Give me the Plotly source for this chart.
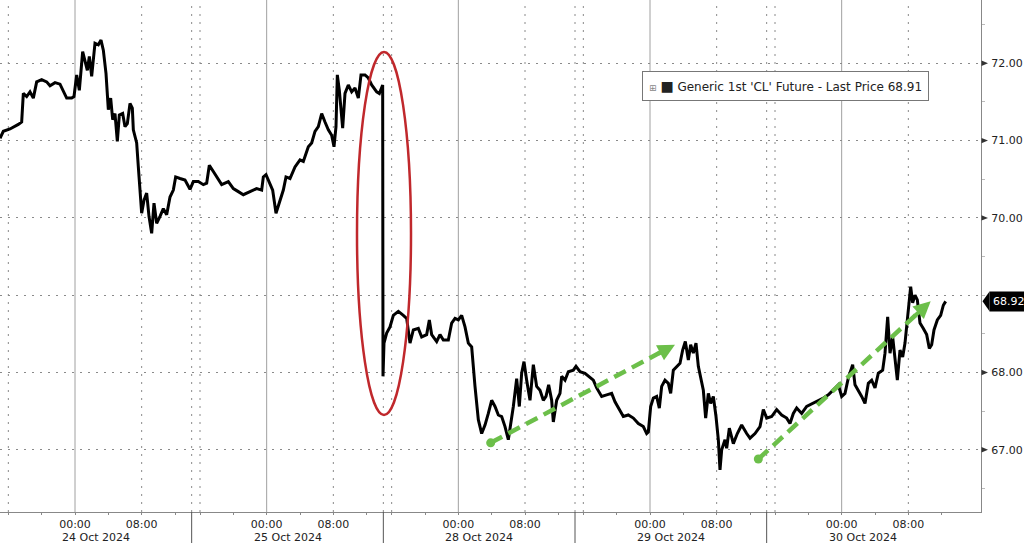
import plotly.graph_objects as go

# ---------------- data ----------------
# x: trading-session hours since the start of the 24 Oct session (23-hour sessions, gaps removed)
hours = [0.0, 0.4, 1.2, 1.8, 2.2, 2.6, 2.8, 3.2, 3.6, 4.0, 4.4, 5.0, 5.6, 6.0, 6.6, 7.2, 7.8, 8.0,
         8.6, 8.88, 9.2, 9.52, 9.92, 10.2, 10.48, 10.72, 11.0, 11.4, 11.8, 12.12, 12.4, 12.72, 13.0,
         13.28, 13.52, 13.8, 14.08, 14.32, 14.72, 15.0, 15.28, 15.6, 15.88, 16.0, 16.4, 16.6, 16.8,
         17.0, 17.28, 17.6, 17.88, 18.2, 18.48, 18.8, 19.2, 19.6, 20.0, 20.4, 20.8, 21.08, 21.6, 22.2,
         22.8, 23.2, 23.8, 24.4, 24.8, 25.12, 25.6, 26.2, 26.6, 27.4, 28.0, 28.6,
         29.2, 30.0, 30.8, 31.4, 31.6, 31.92, 32.32, 32.72, 33.12, 33.52, 34.0, 34.32, 34.8, 35.4,
         36.0, 36.4, 37.0, 37.4, 37.8, 38.2, 38.6, 39.0, 39.4, 39.8, 40.08, 40.32, 40.48, 40.72,
         41.12, 41.4, 41.8, 42.2, 42.6, 43.0, 43.32, 43.8, 44.2, 44.6, 45.2, 45.52, 45.92,
         45.96, 46.08, 46.4, 46.8, 47.2, 47.8, 48.4, 48.8, 49.2, 49.6, 50.2, 50.6, 51.2, 51.52, 51.8,
         52.4, 52.8, 53.2, 53.8, 54.2, 54.6, 55.0, 55.4, 55.8, 56.2, 56.6, 57.0, 57.4, 57.8, 58.2,
         58.6, 59.0, 59.4, 59.8, 60.2, 60.6, 61.0, 61.2, 61.6, 62.0, 62.32, 62.6, 62.88, 63.2, 63.6,
         64.0, 64.4, 64.8, 65.2, 65.52, 65.84, 66.2, 66.4, 66.8, 67.2, 67.4, 67.8, 68.2, 68.8, 69.12,
         69.6, 70.2, 70.8, 71.2, 71.6, 72.2, 72.8, 73.4, 73.8, 74.32, 74.8, 75.4, 76.0, 76.6, 77.2,
         77.6, 77.8, 78.08, 78.4, 78.8, 79.12, 79.4, 79.8, 80.2, 80.48, 80.8, 81.2, 81.6, 81.92,
         82.24, 82.6, 82.88, 83.2, 83.52, 83.8, 84.08, 84.4, 84.68, 85.0, 85.28, 85.6, 85.92, 86.2,
         86.4, 86.6, 87.0, 87.2, 87.52, 88.0, 88.48, 89.0, 89.6, 90.0, 90.6, 91.2, 91.6, 92.0, 92.6,
         93.2, 93.8, 94.4, 94.8, 95.2, 95.6, 96.2, 96.8, 97.6, 98.2, 98.8, 99.4, 100.0, 100.6, 101.0,
         101.4, 101.8, 102.32, 102.6, 103.0, 103.4, 103.8, 104.2, 104.6, 105.0, 105.4, 105.92, 106.2,
         106.52, 106.8, 107.12, 107.4, 107.68, 108.0, 108.32, 108.6, 108.88, 109.12, 109.28, 109.52,
         109.8, 110.08, 110.4, 110.8, 111.2, 111.52, 111.8, 112.08, 112.48, 112.88, 113.2, 113.48]

price = [71.03, 71.12, 71.15, 71.18, 71.21, 71.24, 71.61, 71.57, 71.63, 71.55, 71.76, 71.79, 71.76,
         71.71, 71.75, 71.73, 71.61, 71.55, 71.55, 71.57, 71.85, 71.65, 72.15, 72.02, 71.91, 72.09,
         71.83, 72.26, 72.24, 72.30, 72.17, 71.87, 71.40, 71.55, 71.27, 71.35, 70.99, 71.33, 71.35,
         71.18, 71.22, 71.48, 71.42, 71.14, 70.97, 70.66, 70.40, 70.06, 70.23, 70.32, 70.02, 69.80,
         70.19, 69.93, 70.02, 70.12, 70.04, 70.27, 70.36, 70.53, 70.51, 70.49, 70.37, 70.47, 70.47,
         70.43, 70.45, 70.68, 70.60, 70.49, 70.43, 70.47, 70.38, 70.34,
         70.30, 70.34, 70.38, 70.36, 70.53, 70.56, 70.45, 70.36, 70.06, 70.19, 70.36, 70.53, 70.51,
         70.66, 70.75, 70.73, 70.92, 70.97, 71.12, 71.18, 71.35, 71.24, 71.14, 71.07, 70.92, 71.18,
         71.85, 71.65, 71.16, 71.61, 71.72, 71.63, 71.68, 71.55, 71.85, 71.85, 71.81, 71.72, 71.63,
         71.61, 71.72,
         67.95, 68.38, 68.51, 68.59, 68.74, 68.79, 68.74, 68.70, 68.38, 68.55, 68.57, 68.46, 68.49,
         68.68, 68.49, 68.40, 68.49, 68.42, 68.42, 68.64, 68.70, 68.68, 68.74, 68.59, 68.38, 68.33,
         67.82, 67.39, 67.21, 67.32, 67.47, 67.64, 67.56, 67.45, 67.43, 67.30, 67.13, 67.26, 67.56,
         67.92, 67.56, 67.99, 68.14, 67.90, 67.64, 68.10, 67.82, 67.77, 67.64, 67.69, 67.84, 67.64,
         67.36, 67.64, 67.73, 67.95, 67.90, 68.01, 68.03, 68.08, 68.01, 67.99, 67.93, 67.90, 67.80,
         67.69, 67.71, 67.73, 67.62, 67.52, 67.43, 67.45, 67.41, 67.34, 67.30, 67.21, 67.23, 67.56,
         67.67, 67.69, 67.54, 67.82, 67.90, 67.86, 67.73, 68.03, 68.08, 68.12, 68.29, 68.40, 68.16,
         68.36, 68.25, 68.38, 68.08, 67.95, 67.77, 67.41, 67.73, 67.60, 67.69, 67.43, 67.13,
         66.74, 67.00, 67.13, 67.02, 67.28, 67.08, 67.21, 67.32, 67.21, 67.15, 67.21, 67.30, 67.52,
         67.41, 67.43, 67.52, 67.45, 67.41, 67.34, 67.47, 67.54, 67.47, 67.56, 67.60, 67.64, 67.67,
         67.71, 67.77, 67.84, 67.69, 67.73, 67.93, 68.10, 67.84, 67.77, 67.69, 67.60, 67.86, 67.90,
         67.80, 67.99, 68.03, 68.25, 68.72, 68.25, 68.46, 68.18, 67.90, 68.29, 68.20, 68.38, 68.68,
         68.94, 69.11, 68.90, 69.00, 68.94, 68.64, 68.57, 68.49, 68.31, 68.36, 68.55, 68.68, 68.74,
         68.87, 68.92]

session_dates = ["24 Oct 2024", "25 Oct 2024", "28 Oct 2024", "29 Oct 2024", "30 Oct 2024"]
session_starts = [0, 23, 46, 69, 92]          # hours
tick_offsets = [1, 5, 9, 13, 17, 21]           # 16:00, 20:00, 00:00, 04:00, 08:00, 12:00
tick_names = ["", "", "00:00", "", "08:00", ""]
y_ticks = [67, 68, 69, 70, 71, 72]
last_price = 68.92
legend_label = "Generic 1st 'CL' Future - Last Price 68.91"

# annotation geometry (data coordinates)
ellipse_x = [42.84, 49.32]
ellipse_y = [67.45, 72.146]
arrow1 = [(58.88, 67.09), (81.0, 68.36)]
arrow2 = [(91.0, 66.88), (111.68, 68.92)]

x_range = [0, 117.72]
y_range = [66.195, 72.819]

FONT = "DejaVu Sans"
GREEN = "#6cbf4a"
RED = "#c0282c"
PW = 981.0  # plot width in px
PH = 512.0  # plot height in px

fig = go.Figure()
fig.add_trace(go.Scatter(x=hours, y=price, mode="lines",
                         line=dict(color="black", width=3), hoverinfo="skip", showlegend=False))
fig.add_trace(go.Scatter(x=[arrow1[0][0], arrow2[0][0]], y=[arrow1[0][1], arrow2[0][1]],
                         mode="markers", marker=dict(color=GREEN, size=9),
                         hoverinfo="skip", showlegend=False))

tickvals, ticktext = [], []
for s in session_starts:
    for off, name in zip(tick_offsets, tick_names):
        if s + off < x_range[1]:
            tickvals.append(s + off)
            ticktext.append(name)

shapes = []
for i, s in enumerate(session_starts):
    shapes.append(dict(type="line", xref="x", yref="paper", x0=s + 9, x1=s + 9, y0=0, y1=1,
                       line=dict(color="#a0a0a0", width=1), layer="below"))
    for off in [1, 17]:
        shapes.append(dict(type="line", xref="x", yref="paper", x0=s + off, x1=s + off, y0=0, y1=1,
                           line=dict(color="#8a8a8a", width=1, dash="2px,6px"), layer="below"))
    if i > 0:
        shapes.append(dict(type="line", xref="x", yref="paper", x0=s, x1=s, y0=0, y1=1,
                           line=dict(color="#8a8a8a", width=1, dash="2px,6px"), layer="below"))
        shapes.append(dict(type="line", xref="x", yref="paper", x0=s, x1=s, y0=0, y1=-31 / PH,
                           line=dict(color="#555", width=1)))

shapes.append(dict(type="circle", xref="x", yref="y", x0=ellipse_x[0], x1=ellipse_x[1],
                   y0=ellipse_y[0], y1=ellipse_y[1], line=dict(color=RED, width=2.5)))
for a in [arrow1, arrow2]:
    shapes.append(dict(type="line", xref="x", yref="y", x0=a[0][0], y0=a[0][1],
                       x1=a[0][0] + 0.93 * (a[1][0] - a[0][0]), y1=a[0][1] + 0.93 * (a[1][1] - a[0][1]),
                       line=dict(color=GREEN, width=4.5, dash="13px,7px")))

for v in y_ticks:
    if abs(v - last_price) < 0.3:
        continue
    shapes.append(dict(type="path", xref="paper", yref="y",
                       path=f"M {981.5/PW} {v-0.035} L {988/PW} {v} L {981.5/PW} {v+0.035} Z",
                       fillcolor="#333", line=dict(width=0)))
shapes.append(dict(type="path", xref="paper", yref="y",
                   path=f"M {982.5/PW} {last_price} L {989.5/PW} {last_price+0.128} L {989.5/PW} {last_price-0.128} Z",
                   fillcolor="black", line=dict(width=0)))

annotations = []
for a in [arrow1, arrow2]:
    annotations.append(dict(x=a[1][0], y=a[1][1], xref="x", yref="y", axref="x", ayref="y",
                            ax=a[0][0] + 0.9 * (a[1][0] - a[0][0]), ay=a[0][1] + 0.9 * (a[1][1] - a[0][1]),
                            text="", showarrow=True, arrowhead=2, arrowsize=0.85, arrowwidth=4,
                            arrowcolor=GREEN))
for s, d in zip(session_starts, session_dates):
    annotations.append(dict(x=s + 9, y=0, xref="x", yref="paper", xanchor="left", yanchor="top",
                            xshift=-15, yshift=-17, text=d, showarrow=False,
                            font=dict(family=FONT, size=11, color="#222")))
annotations.append(dict(x=1, y=last_price, xref="paper", yref="y", xanchor="left", yanchor="middle",
                        xshift=8, text=f"{last_price:.2f}", showarrow=False, bgcolor="black",
                        borderpad=3, font=dict(family=FONT, size=11, color="white")))
annotations.append(dict(x=785 / PW, y=1 - 86 / PH, xref="paper", yref="paper", xanchor="center",
                        yanchor="middle", showarrow=False, bgcolor="white", bordercolor="#777",
                        borderwidth=1, borderpad=6,
                        text='<span style="font-size:9px;color:#888">⊞</span> '
                             '<span style="font-size:14px">■</span> ' + legend_label,
                        font=dict(family=FONT, size=12, color="#222")))

fig.update_layout(
    width=1024, height=543,
    margin=dict(l=0, r=43, t=0, b=31, pad=0),
    paper_bgcolor="white", plot_bgcolor="white",
    showlegend=False,
    shapes=shapes, annotations=annotations,
    xaxis=dict(range=x_range, showgrid=False, zeroline=False, showline=True, linecolor="#888",
               linewidth=1, ticks="outside", ticklen=2, tickcolor="#888", tickvals=tickvals,
               ticktext=ticktext, tickfont=dict(family=FONT, size=11, color="#222")),
    yaxis=dict(range=y_range, side="right", tickvals=y_ticks,
               ticktext=["" if abs(v - last_price) < 0.3 else f"{v:.2f}" for v in y_ticks],
               showgrid=True, gridcolor="#8a8a8a", gridwidth=1, griddash="2px,6px",
               zeroline=False, showline=True, linecolor="#888", linewidth=1,
               ticks="outside", ticklen=7, tickcolor="rgba(0,0,0,0)",
               minor=dict(dtick=0.5, tick0=0.5, ticks="outside", ticklen=3, tickcolor="#bbb",
                          showgrid=False),
               tickfont=dict(family=FONT, size=11, color="#222")),
)

fig.write_html("out.html", config={"displayModeBar": False},
               post_script="document.body.style.margin='0';document.body.style.overflow='hidden';")
